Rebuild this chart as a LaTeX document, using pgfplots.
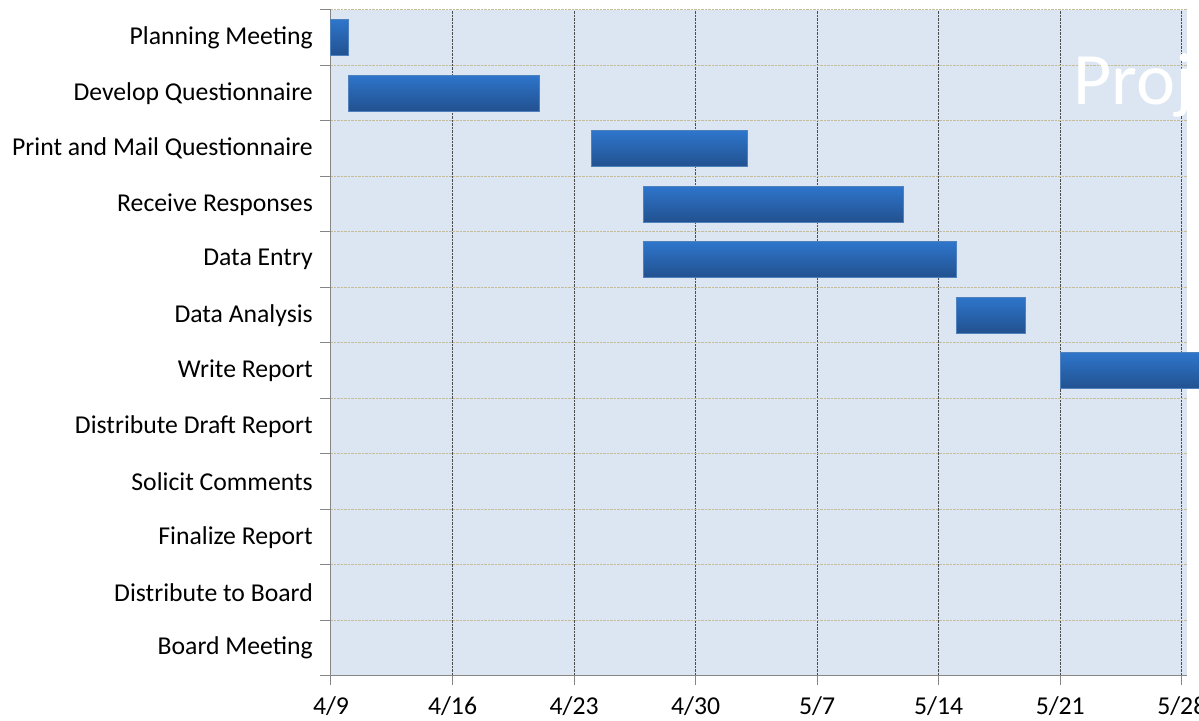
\documentclass[border=0pt]{standalone}
\usepackage{pgfplots}
\pgfplotsset{compat=1.18}
\usepackage{fontspec}
\setmainfont{Carlito}
\definecolor{bg}{HTML}{DCE6F2}
\definecolor{vgrid}{HTML}{4D4D4D}
\definecolor{hgrid}{HTML}{C4BD97}
\definecolor{axisgray}{HTML}{868686}
\definecolor{bartop}{HTML}{2E75CB}
\definecolor{barbot}{HTML}{22518F}
\definecolor{barborder}{HTML}{4F81BD}
\begin{document}
\begin{tikzpicture}
\begin{axis}[
  scale only axis, width=856pt, height=666pt,
  xmin=0, xmax=49.3, ymin=-0.5, ymax=11.5,
  clip=false,
  axis x line*=bottom, axis y line*=left,
  axis line style={draw=axisgray, line width=1pt},
  axis background/.style={fill=bg},
  font=\fontsize{25.7}{30}\selectfont,
  xtick={0,7,...,49},
  xticklabels={4/9,4/16,4/23,4/30,5/7,5/14,5/21,5/28},
  ytick={0,...,11},
  yticklabels={Board Meeting,Distribute to Board,Finalize Report,Solicit Comments,Distribute Draft Report,Write Report,Data Analysis,Data Entry,Receive Responses,Print and Mail Questionnaire,Develop Questionnaire,Planning Meeting},
  minor ytick={-0.5,0.5,...,11.5},
  xmajorgrids, yminorgrids,
  major grid style={draw=vgrid, densely dotted, line width=1pt},
  minor grid style={draw=hgrid, densely dotted, line width=1pt},
  tick align=outside,
  major tick length=9pt, minor tick length=11pt,
  tick style={draw=axisgray, line width=1pt},
  every major y tick/.style={draw=none},
  yticklabel style={inner sep=0pt, anchor=east, xshift=-9pt},
  xticklabel style={inner sep=0pt, anchor=north, yshift=-11pt},
  bar/.style={top color=bartop, bottom color=barbot, draw=barborder, line width=1pt},
]
% Gantt bars: (start day, row) to (end day, row), days counted from 4/9
\addplot[bar] coordinates {(0,10.675) (1,10.675) (1,11.325) (0,11.325)} -- cycle;   % Planning Meeting
\addplot[bar] coordinates {(1,9.675) (12,9.675) (12,10.325) (1,10.325)} -- cycle;    % Develop Questionnaire
\addplot[bar] coordinates {(15,8.675) (24,8.675) (24,9.325) (15,9.325)} -- cycle;    % Print and Mail
\addplot[bar] coordinates {(18,7.675) (33,7.675) (33,8.325) (18,8.325)} -- cycle;    % Receive Responses
\addplot[bar] coordinates {(18,6.675) (36,6.675) (36,7.325) (18,7.325)} -- cycle;    % Data Entry
\addplot[bar] coordinates {(36,5.675) (40,5.675) (40,6.325) (36,6.325)} -- cycle;    % Data Analysis
\addplot[bar] coordinates {(42,4.675) (52,4.675) (52,5.325) (42,5.325)} -- cycle;    % Write Report
\node[anchor=base west, text=white, inner sep=0pt, font=\fontsize{74}{80}\selectfont] at (axis cs:42.75,9.8) {Project Timeline};
\coordinate (SW) at (rel axis cs:0,0);
\coordinate (NE) at (rel axis cs:1,1);
\end{axis}
\pgfresetboundingbox
\useasboundingbox ([xshift=-331pt,yshift=-45pt]SW) rectangle ([xshift=12pt,yshift=10pt]NE);
\end{tikzpicture}
\end{document}
